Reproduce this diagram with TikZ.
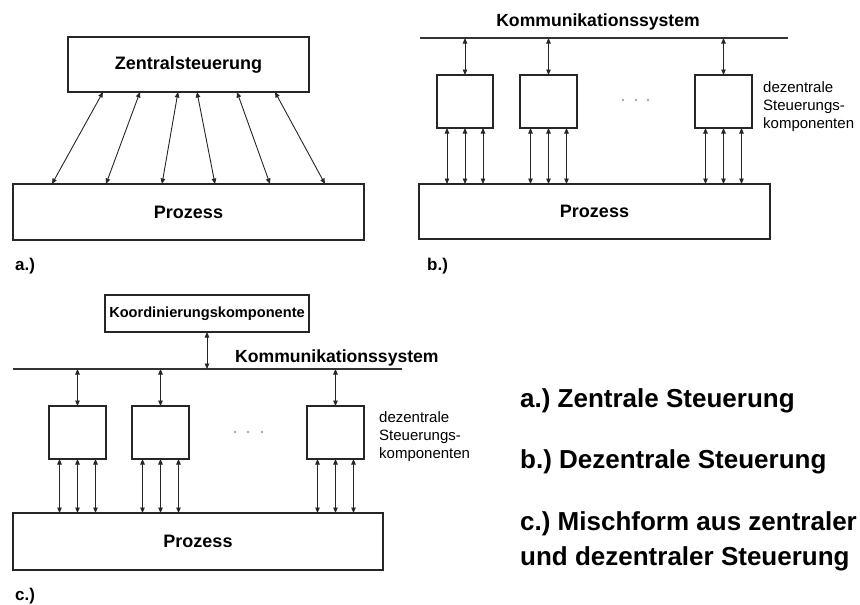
\documentclass[tikz,border=0pt]{standalone}
\usepackage{fontspec}
\setmainfont{Liberation Sans}
\usetikzlibrary{arrows.meta}
\frenchspacing
\begin{document}
\begin{tikzpicture}[x=1pt,y=-1pt,
  box/.style={draw=black!85,line width=1.3pt,inner sep=0pt,outer sep=0pt,anchor=north west,
    font=\fontsize{18}{21}\selectfont\bfseries},
  link/.style={draw=black!85,line width=0.9pt,
    {Triangle[length=5.5pt,width=4.5pt]}-{Triangle[length=5.5pt,width=4.5pt]}},
  bus/.style={draw=black!80,line width=1.3pt},
  title/.style={font=\fontsize{17.6}{20}\selectfont\bfseries,inner sep=0pt},
  tag/.style={font=\fontsize{17}{20}\selectfont\bfseries,inner sep=0pt,anchor=base west},
  note/.style={font=\fontsize{15}{17.8}\selectfont,align=left,inner sep=0pt,anchor=base west},
  legend/.style={font=\fontsize{26}{30}\selectfont\bfseries,inner sep=0pt,anchor=base west},
  dot/.style={fill=black!35,draw=none,circle,inner sep=0pt,minimum size=2.6pt}]
\useasboundingbox (0,0) rectangle (860,605);

% ---------- a.) central control ----------
\node[box,minimum width=241,minimum height=55] (zs) at (68,37) {Zentralsteuerung};
\node[box,minimum width=351,minimum height=56] (pa) at (13,184) {Prozess};
\foreach \t/\b in {35/39,72/93,110/149,129/202,169/257,207/312}
  \draw[link] ([xshift=\t]zs.south west) -- ([xshift=\b]pa.north west);
\node[tag] (la) at (15,270) {a.)};

% ---------- b.) decentralised control ----------
\coordinate (busbl) at (420,38);
\coordinate (busbr) at (788,38);
\draw[bus] (busbl) -- (busbr);
\node[title,anchor=base] (kb) at (598,27) {Kommunikationssystem};
\node[box,minimum width=56,minimum height=53] (b1) at (437,75) {};
\node[box,minimum width=57,minimum height=53] (b2) at (520,75) {};
\node[box,minimum width=57,minimum height=53] (b3) at (695,75) {};
\node[box,minimum width=351,minimum height=55] (pb) at (419,184) {Prozess};
\foreach \n in {b1,b2,b3}{
  \draw[link] (\n.north |- busbl) -- (\n.north);
  \foreach \d in {-18,0,18}
    \draw[link] ([xshift=\d]\n.south) -- ([xshift=\d]\n.south |- pb.north);
}
\node[dot] (db1) at (623,100) {};
\node[dot] (db2) at (636,100) {};
\node[dot] (db3) at (648,100) {};
% the base anchor of a multi-line node sits on its last line
\node[note] (nb) at (763,128) {dezentrale\\Steuerungs-\\komponenten};
\node[tag] (lb) at (427,270) {b.)};

% ---------- c.) mixed form ----------
\node[box,minimum width=204,minimum height=37,font=\fontsize{14.6}{17}\selectfont\bfseries] (kk) at (105,295) {Koordinierungskomponente};
\coordinate (buscl) at (13,369);
\coordinate (buscr) at (402,369);
\draw[bus] (buscl) -- (buscr);
\draw[link] (kk.south) -- (kk.south |- buscl);
\node[title,anchor=base west] (kc) at (235,362) {Kommunikationssystem};
\node[box,minimum width=57,minimum height=53] (c1) at (49,406) {};
\node[box,minimum width=57,minimum height=53] (c2) at (132,406) {};
\node[box,minimum width=57,minimum height=53] (c3) at (307,406) {};
\node[box,minimum width=370,minimum height=57] (pc) at (13,513) {Prozess};
\foreach \n in {c1,c2,c3}{
  \draw[link] (\n.north |- buscl) -- (\n.north);
  \foreach \d in {-18,0,18}
    \draw[link] ([xshift=\d]\n.south) -- ([xshift=\d]\n.south |- pc.north);
}
\node[dot] (dc1) at (235,432) {};
\node[dot] (dc2) at (248,432) {};
\node[dot] (dc3) at (262,432) {};
\node[note] (nc) at (379,458) {dezentrale\\Steuerungs-\\komponenten};
\node[tag] (lc) at (15,600) {c.)};

% ---------- legend ----------
\node[legend] (ga) at (520,407) {a.) Zentrale Steuerung};
\node[legend] (gb) at (520,468) {b.) Dezentrale Steuerung};
\node[legend] (gc) at (520,530) {c.) Mischform aus zentraler};
\node[legend] (gd) at (520,565) {und dezentraler Steuerung};
\end{tikzpicture}
\end{document}
